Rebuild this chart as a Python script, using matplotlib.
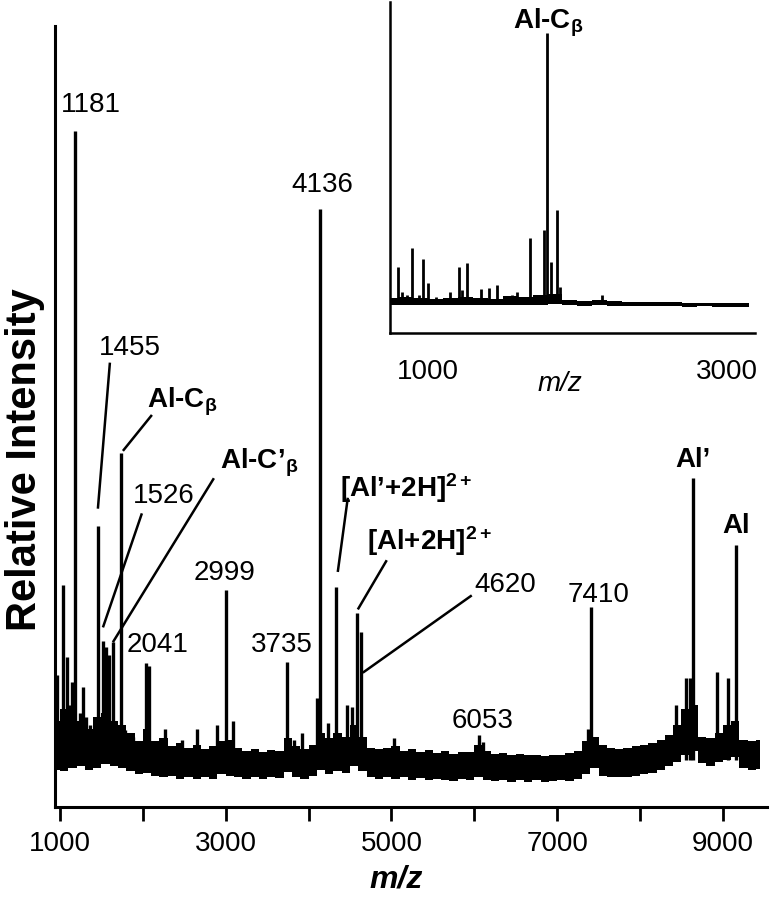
import numpy as np
import matplotlib.pyplot as plt

plt.rcParams['font.family'] = ['Liberation Sans', 'DejaVu Sans']
plt.rcParams['mathtext.fontset'] = 'custom'
plt.rcParams['mathtext.rm'] = 'Liberation Sans'
plt.rcParams['mathtext.bf'] = 'Liberation Sans:bold'
plt.rcParams['mathtext.it'] = 'Liberation Sans:italic'

# main spectrum, noise band read every 100 m/z (upper and lower edge)
band_mz = np.arange(950, 9550, 100)
band_hi = [11.0, 12.5, 11.5, 11.0, 10.0, 11.5, 12.0, 11.0, 10.5, 9.5,
           8.5, 10.0, 8.5, 8.8, 7.8, 8.2, 7.6, 8.0, 7.4, 7.8,
           8.5, 8.6, 7.5, 7.2, 7.4, 7.0, 7.3, 7.2, 8.8, 7.8,
           7.4, 8.0, 9.5, 8.8, 9.5, 9.0, 10.5, 9.0, 7.6, 7.4,
           7.6, 7.8, 7.2, 7.4, 7.0, 7.3, 6.9, 7.2, 6.8, 7.0,
           7.1, 8.0, 7.2, 6.8, 6.9, 6.6, 6.8, 6.6, 6.7, 6.5,
           6.7, 6.6, 6.9, 7.2, 8.5, 9.0, 8.0, 7.6, 7.4, 7.6,
           7.8, 8.0, 8.2, 8.6, 9.2, 10.5, 12.5, 13.0, 9.0, 8.8,
           9.5, 10.5, 11.0, 8.6, 8.4, 8.6]
band_lo = [4.8, 4.6, 5.0, 5.2, 4.8, 5.0, 5.5, 5.2, 5.0, 4.6,
           4.2, 4.4, 4.0, 3.8, 4.0, 3.6, 3.8, 3.6, 3.9, 3.6,
           4.2, 4.0, 3.8, 3.6, 3.9, 3.6, 3.8, 3.7, 4.5, 3.8,
           3.6, 4.0, 4.8, 4.2, 4.6, 4.4, 5.2, 4.6, 3.8, 3.6,
           3.9, 3.6, 3.8, 3.5, 3.7, 3.4, 3.6, 3.5, 3.3, 3.6,
           3.4, 3.9, 3.5, 3.3, 3.5, 3.2, 3.4, 3.2, 3.4, 3.2,
           3.3, 3.4, 3.3, 3.6, 4.2, 5.0, 4.0, 3.8, 3.9, 3.8,
           4.0, 4.2, 4.4, 4.8, 5.2, 5.8, 6.6, 7.2, 5.6, 5.2,
           5.8, 6.0, 6.4, 5.0, 4.8, 4.9]

# main spectrum peaks
peak_mz = [965, 1040, 1080, 1110, 1141, 1181, 1241, 1281, 1320, 1362,
           1422, 1455, 1520, 1555, 1590, 1640, 1736, 1784, 1880,
           2041, 2075, 2267, 2470, 2650, 2890, 2999, 3088,
           3735, 3830, 3920, 4100, 4136, 4230, 4330, 4460, 4520,
           4590, 4630, 5029, 6053, 6110, 7370, 7410,
           8430, 8560, 8600, 8636, 8925, 9058, 9154]
peak_h = [16.9, 28.4, 19.2, 13.0, 16.0, 86.6, 12.0, 15.4, 11.5, 10.5,
          11.0, 36.0, 21.2, 20.5, 19.5, 21.1, 45.3, 9.9, 9.0,
          18.4, 18.0, 10.0, 8.6, 10.0, 10.5, 27.8, 11.0,
          18.6, 8.6, 9.5, 14.0, 76.6, 10.8, 28.2, 13.0, 12.8,
          24.8, 22.4, 8.8, 9.2, 8.3, 10.0, 25.6,
          13.0, 16.5, 16.5, 42.1, 17.3, 16.5, 33.5]

# inset spectrum (800-3200)
inset_band_mz = np.arange(750, 3250, 100)
inset_band_hi = [10.6, 10.8, 10.5, 10.4, 10.6, 10.8, 10.6, 10.4, 11.2, 10.8,
                 11.5, 11.8, 10.0, 9.8, 10.0, 9.6, 9.5, 9.4, 9.3, 9.3,
                 9.2, 9.1, 9.2, 9.1, 9.0]
inset_band_lo = [8.6, 8.5, 8.6, 8.5, 8.4, 8.6, 8.5, 8.4, 8.6, 8.5,
                 8.6, 8.7, 8.4, 8.3, 8.4, 8.2, 8.3, 8.2, 8.1, 8.2,
                 8.0, 8.1, 8.0, 8.0, 7.9]
inset_mz = [800, 830, 860, 893, 940, 967, 1000, 1054, 1147, 1207,
            1230, 1261, 1355, 1408, 1461, 1560, 1595, 1682, 1776, 1796,
            1822, 1862, 1883, 2164]
inset_h = [20.0, 12.4, 11.5, 25.7, 11.5, 22.4, 15.0, 11.0, 12.4, 20.0,
           13.0, 21.2, 13.3, 13.6, 14.5, 11.5, 12.4, 28.7, 31.0, 90.6,
           21.5, 37.3, 14.0, 11.5]

# peak labels
num_labels = [('1181', 1374, 89.0), ('4136', 4172, 78.7), ('1455', 1844, 57.9),
              ('1526', 2255, 38.9), ('2041', 2182, 19.8), ('2999', 2990, 29.1),
              ('3735', 3678, 19.8), ('4620', 6380, 27.5), ('6053', 6102, 10.1),
              ('7410', 7502, 26.2)]
bold_labels = [(r'Al-C$_{\mathbf{β}}$', 2049, 51.1, 'left'),
               (r'Al-C’$_{\mathbf{β}}$', 2930, 43.4, 'left'),
               (r'[Al’+2H]$^{\mathbf{2+}}$', 4378, 39.7, 'left'),
               (r'[Al+2H]$^{\mathbf{2+}}$', 4703, 32.9, 'left'),
               ('Al’', 8640, 43.5, 'center'),
               ('Al', 9155, 35.1, 'center')]
leaders = [((1603, 56.9), (1458, 38.2)),
           ((2110, 50.2), (1760, 45.6)),
           ((1989, 37.6), (1519, 23.0)),
           ((2858, 42.1), (1639, 21.1)),
           ((4474, 39.6), (4353, 30.1)),
           ((4944, 31.6), (4595, 25.3)),
           ((5970, 27.1), (4655, 17.2))]

fig = plt.figure(figsize=(7.72, 9.0), dpi=100)
ax = fig.add_axes([0.0712, 0.1033, 0.922, 0.8678])

ax.fill_between(band_mz, band_lo, band_hi, step='mid', color='black', lw=0)
ax.vlines(peak_mz, 6.0, peak_h, color='black', lw=2.4)
for (x0, y0), (x1, y1) in leaders:
    ax.plot([x0, x1], [y0, y1], color='black', lw=1.8, solid_capstyle='butt')
for txt, x, y in num_labels:
    ax.text(x, y, txt, fontsize=20, ha='center', va='baseline')
for txt, x, y, ha in bold_labels:
    ax.text(x, y, txt, fontsize=20, fontweight='bold', ha=ha, va='baseline')

ax.set_xlim(940, 9530)
ax.set_ylim(0, 100)
ax.set_xticks([1000, 2000, 3000, 4000, 5000, 6000, 7000, 8000, 9000])
ax.set_xticklabels(['1000', '', '3000', '', '5000', '', '7000', '', '9000'])
ax.set_yticks([])
ax.tick_params(axis='x', direction='out', length=10, width=2, labelsize=20, pad=7)
for s in ['top', 'right']:
    ax.spines[s].set_visible(False)
for s in ['left', 'bottom']:
    ax.spines[s].set_linewidth(2.2)

fig.text(0.0324, 0.489, 'Relative Intensity', rotation=90, fontsize=30,
         fontweight='bold', ha='center', va='center')
fig.text(0.513, 0.006, 'm/z', fontsize=23, fontweight='bold', style='italic',
         ha='center', va='bottom')

# inset
axi = fig.add_axes([0.505, 0.63, 0.473, 0.3678])
axi.fill_between(inset_band_mz, inset_band_lo, inset_band_hi, step='mid',
                 color='black', lw=0)
axi.vlines(inset_mz, 9.0, inset_h, color='black', lw=2.0)
axi.text(1569, 92.1, r'Al-C$_{\mathbf{β}}$', fontsize=20, fontweight='bold',
         ha='left', va='baseline')
axi.set_xlim(746, 3187)
axi.set_ylim(0, 100)
axi.set_xticks([1000, 3000])
axi.set_xticklabels(['1000', '3000'])
axi.set_yticks([])
axi.tick_params(axis='x', length=0, labelsize=20, pad=19)
axi.patch.set_alpha(0)
for s in ['top', 'right']:
    axi.spines[s].set_visible(False)
for s in ['left', 'bottom']:
    axi.spines[s].set_linewidth(1.8)
fig.text(0.725, 0.573, 'm/z', fontsize=20, style='italic', ha='center', va='center')

fig.savefig('out.png', dpi=100)
